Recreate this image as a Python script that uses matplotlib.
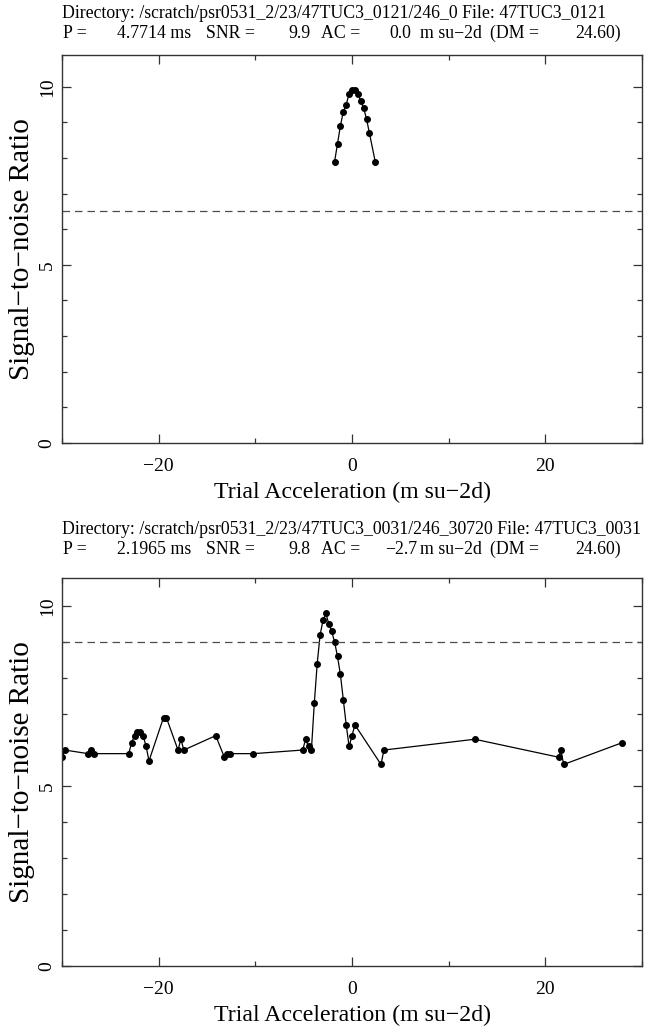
import matplotlib
matplotlib.use("Agg")
import matplotlib.pyplot as plt
from matplotlib.ticker import MultipleLocator

plt.rcParams['font.family'] = ['Liberation Serif', 'DejaVu Serif']

# --- 上圖：47TUC3_0121 ---
acc_top = [-1.8, -1.5, -1.2, -0.9, -0.6, -0.3, 0.0, 0.3, 0.6, 0.9, 1.2, 1.5, 1.8, 2.4]
snr_top = [7.9, 8.4, 8.9, 9.3, 9.5, 9.8, 9.9, 9.9, 9.8, 9.6, 9.4, 9.1, 8.7, 7.9]
thresh_top = 6.5
dir_top = "Directory: /scratch/psr0531_2/23/47TUC3_0121/246_0 File: 47TUC3_0121"
fields_top = ["P =", "4.7714 ms", "SNR =", "9.9", "AC =", "0.0", "m su\u22122d", "(DM =", "24.60)"]

# --- 下圖：47TUC3_0031 ---
acc_bot = [-30.0, -29.7, -27.3, -27.0, -26.7, -23.1, -22.8, -22.5, -22.2, -21.9,
           -21.6, -21.3, -21.0, -19.5, -19.2, -18.0, -17.7, -17.4, -14.1, -13.2,
           -12.9, -12.6, -10.2, -5.1, -4.8, -4.5, -4.2, -3.9, -3.6, -3.3,
           -3.0, -2.7, -2.4, -2.1, -1.8, -1.5, -1.2, -0.9, -0.6, -0.3,
           0.0, 0.3, 3.0, 3.3, 12.7, 21.4, 21.6, 21.9, 27.9]
snr_bot = [5.8, 6.0, 5.9, 6.0, 5.9, 5.9, 6.2, 6.4, 6.5, 6.5,
           6.4, 6.1, 5.7, 6.9, 6.9, 6.0, 6.3, 6.0, 6.4, 5.8,
           5.9, 5.9, 5.9, 6.0, 6.3, 6.1, 6.0, 7.3, 8.4, 9.2,
           9.6, 9.8, 9.5, 9.3, 9.0, 8.6, 8.1, 7.4, 6.7, 6.1,
           6.4, 6.7, 5.6, 6.0, 6.3, 5.8, 6.0, 5.6, 6.2]
thresh_bot = 9.0
dir_bot = "Directory: /scratch/psr0531_2/23/47TUC3_0031/246_30720 File: 47TUC3_0031"
fields_bot = ["P =", "2.1965 ms", "SNR =", "9.8", "AC =", "\u22122.7", "m su\u22122d", "(DM =", "24.60)"]

XLABEL = "Trial Acceleration (m su\u22122d)"
YLABEL = "Signal\u2212to\u2212noise Ratio"

# 第二行標頭各欄位的起始像素（Fortran 固定欄寬輸出）
FIELD_COLS = [62.6, 116.6, 206, 288.4, 321.4, 389, 420, 490, 574.8]
FIELD_COLS_NEG = {5: 385}   # 負號值向左多佔一格

W, H = 646, 1027
fig = plt.figure(figsize=(W / 100, H / 100), dpi=100)


def panel(top_px, hdr_px, acc, snr, thresh, dirline, fields):
    # top_px: 軸框上緣像素；hdr_px: 兩行標頭的基線像素
    left, right, height = 62, 642, 388
    ax = fig.add_axes([left / W, 1 - (top_px + height) / H, (right - left) / W, height / H])
    ax.plot(acc, snr, "-", color="k", lw=0.9, marker="o", ms=4)
    ax.axhline(thresh, color="0.3", lw=0.9, ls=(0, (6, 4)))
    ax.set_xlim(-30, 30)
    ax.set_ylim(0, 1.1 * max(snr))
    ax.xaxis.set_major_locator(MultipleLocator(20))
    ax.xaxis.set_minor_locator(MultipleLocator(10))
    ax.yaxis.set_major_locator(MultipleLocator(5))
    ax.yaxis.set_minor_locator(MultipleLocator(1))
    ax.tick_params(which="both", direction="in", top=True, right=True, width=0.9, color="0.2")
    ax.tick_params(which="major", length=6.5)
    ax.tick_params(which="minor", length=3.6)
    ax.tick_params(axis="x", labelsize=14, pad=11)
    ax.tick_params(axis="y", labelsize=14, pad=4.5, labelrotation=90)
    for lab in ax.get_yticklabels():
        lab.set_va("center")
    for s in ax.spines.values():
        s.set_color("0.2")
        s.set_linewidth(1.0)
    ax.set_xlabel(XLABEL, fontsize=17.2, labelpad=5)
    ax.set_ylabel(YLABEL, fontsize=21, labelpad=3)
    fig.text(left / W, 1 - hdr_px[0] / H, dirline, fontsize=12.8, va="baseline")
    for i, (txt, col) in enumerate(zip(fields, FIELD_COLS)):
        if txt.startswith("\u2212"):
            col = FIELD_COLS_NEG.get(i, col)
        fig.text(col / W, 1 - hdr_px[1] / H, txt, fontsize=12.8, va="baseline")
    return ax


panel(55, (18, 38), acc_top, snr_top, thresh_top, dir_top, fields_top)
panel(578, (534, 554), acc_bot, snr_bot, thresh_bot, dir_bot, fields_bot)

fig.savefig("out.png", dpi=100)
